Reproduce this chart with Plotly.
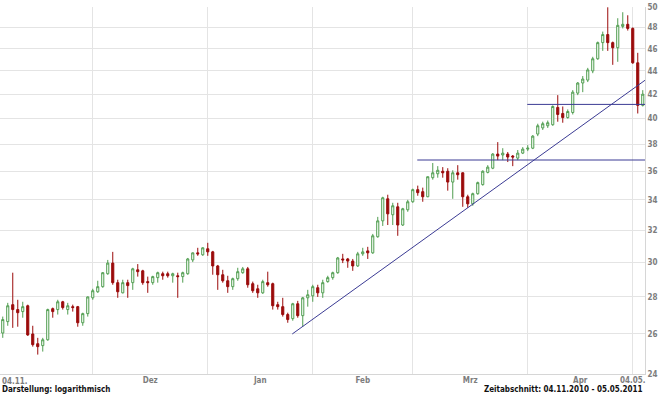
import math
import pandas as pd
import plotly.graph_objects as go

# ---- data ----
holidays = ["2011-04-22", "2011-04-25"]
days = pd.bdate_range("2010-11-04", "2011-05-05")
days = days[~days.isin(pd.to_datetime(holidays))]

open_ = [26.05, 26.65, 27.57, 27.30, 27.19, 27.51, 26.00, 25.50, 25.40, 25.70,
         27.35, 27.30, 27.73, 27.30, 27.46, 27.46, 26.59, 27.08, 27.95, 28.29,
         28.58, 29.33, 29.96, 28.81, 28.23, 28.81, 28.81, 29.56, 29.50, 28.87,
         28.81, 29.10, 29.33, 29.33, 29.21, 29.21, 29.16, 29.33, 30.15, 30.58,
         30.46, 30.83, 30.64, 29.79, 29.27, 28.92, 28.58, 29.04, 29.39, 29.62,
         28.75, 28.46, 28.23, 28.81, 28.75, 27.57, 27.46, 27.03, 26.81, 27.62,
         26.97, 27.95, 28.06, 28.52, 28.23, 28.87, 29.10, 29.39, 30.21, 30.21,
         30.08, 29.79, 30.52, 30.70, 30.58, 31.58, 32.60, 34.07, 33.00, 33.53,
         32.33, 33.33, 33.87, 34.70, 34.56, 34.21, 35.54, 35.82, 36.00, 36.00,
         35.23, 35.89, 35.89, 34.21, 33.73, 34.42, 35.05, 35.92, 36.22, 37.26,
         37.19, 37.26, 37.11, 36.96, 37.33, 37.63, 37.70, 38.78, 39.26, 39.43,
         39.51, 40.90, 40.41, 40.08, 40.49, 42.09, 42.95, 43.20, 44.00, 45.08,
         46.56, 47.32, 46.56, 46.09, 48.10, 48.30, 47.90, 44.72, 41.07]
high = [26.92, 27.67, 29.39, 27.84, 27.73, 27.57, 26.43, 25.80, 25.80, 27.35,
        27.41, 27.84, 27.78, 27.67, 27.57, 27.50, 27.13, 28.02, 28.46, 28.92,
        29.42, 30.15, 30.64, 28.98, 28.98, 28.98, 29.68, 29.90, 29.56, 29.16,
        29.21, 29.45, 29.45, 29.45, 29.39, 29.39, 29.45, 30.27, 30.60, 30.89,
        30.92, 31.20, 30.70, 29.85, 29.56, 29.21, 29.10, 29.68, 29.73, 29.73,
        28.87, 28.69, 28.98, 29.45, 28.81, 27.73, 27.95, 27.13, 27.67, 27.78,
        28.00, 28.40, 28.69, 28.69, 28.98, 29.21, 29.45, 30.33, 30.52, 30.27,
        30.21, 30.64, 30.89, 30.95, 31.76, 32.86, 34.21, 34.35, 33.80, 33.80,
        33.46, 34.00, 34.77, 34.98, 34.84, 35.61, 36.60, 36.37, 36.30, 36.22,
        36.07, 36.44, 35.92, 34.35, 34.49, 35.26, 36.07, 36.44, 37.33, 38.16,
        37.70, 37.41, 37.19, 37.56, 37.78, 37.93, 38.70, 39.59, 39.75, 39.84,
        41.07, 41.92, 40.98, 40.74, 42.34, 43.03, 43.55, 44.27, 45.26, 46.66,
        47.60, 49.97, 46.66, 48.89, 49.48, 49.18, 48.00, 45.62, 42.34]
low = [25.80, 26.43, 26.32, 26.38, 26.86, 25.90, 25.35, 24.95, 25.10, 25.65,
       26.86, 27.03, 27.30, 27.03, 27.19, 26.38, 26.43, 26.92, 27.84, 28.23,
       28.52, 29.27, 28.69, 27.95, 28.20, 27.95, 28.40, 29.16, 28.69, 28.23,
       28.69, 28.81, 28.98, 29.10, 28.81, 27.95, 28.81, 29.27, 30.02, 30.40,
       30.40, 30.40, 29.27, 28.40, 28.81, 28.23, 28.40, 28.92, 29.33, 28.52,
       28.23, 27.95, 28.17, 28.58, 27.30, 27.30, 26.92, 26.59, 26.70, 26.86,
       26.38, 27.46, 27.73, 28.00, 27.95, 28.81, 28.98, 29.33, 29.96, 29.68,
       29.50, 29.73, 30.40, 30.21, 30.52, 31.52, 32.27, 32.33, 32.33, 31.64,
       32.27, 33.20, 33.80, 34.28, 33.87, 34.18, 35.40, 35.54, 35.54, 34.63,
       34.07, 35.40, 33.53, 33.46, 33.60, 34.35, 34.98, 35.85, 36.15, 36.81,
       36.81, 36.67, 36.37, 36.81, 37.26, 37.48, 37.63, 38.62, 39.10, 39.26,
       39.43, 39.75, 39.67, 40.00, 40.33, 41.92, 42.17, 43.03, 43.80, 44.99,
       45.80, 45.80, 44.54, 44.81, 47.90, 47.70, 44.63, 40.41, 40.98]
close = [26.76, 27.51, 27.30, 27.13, 27.46, 25.95, 25.45, 25.35, 25.70, 27.30,
         27.19, 27.73, 27.41, 27.51, 27.41, 26.59, 27.08, 28.00, 28.35, 28.58,
         29.39, 29.96, 28.81, 28.29, 28.81, 28.64, 29.62, 29.45, 28.81, 28.81,
         29.16, 29.39, 29.21, 29.21, 29.33, 29.16, 29.39, 30.21, 30.58, 30.52,
         30.89, 30.64, 29.79, 29.27, 28.92, 28.58, 29.04, 29.45, 29.62, 28.69,
         28.35, 28.23, 28.87, 28.69, 27.51, 27.46, 27.03, 26.76, 27.62, 26.97,
         27.95, 28.12, 28.58, 28.23, 28.81, 29.10, 29.39, 30.27, 30.15, 30.08,
         29.79, 30.52, 30.64, 30.58, 31.64, 32.60, 34.14, 33.06, 33.60, 32.33,
         33.40, 33.87, 34.70, 34.49, 34.21, 35.61, 35.89, 36.07, 35.89, 35.23,
         35.89, 35.75, 34.21, 33.73, 34.42, 35.19, 36.00, 36.30, 37.26, 37.11,
         37.33, 37.04, 37.04, 37.33, 37.63, 37.70, 38.62, 39.43, 39.59, 39.67,
         40.98, 40.33, 40.08, 40.57, 42.17, 42.95, 43.29, 44.09, 45.08, 46.56,
         47.32, 46.56, 46.09, 48.20, 48.30, 47.90, 44.72, 41.07, 42.00]

# trend / support lines (x in trading-day index, y in price)
trend_x = [57.9, 128.5]
trend_y = [26.00, 43.20]
support1_x = [82.9, 128.5]
support1_y = [36.82, 36.82]
support2_x = [104.9, 128.5]
support2_y = [41.15, 41.15]

y_ticks = [24, 26, 28, 30, 32, 34, 36, 38, 40, 42, 44, 46, 48, 50]
y_min, y_max = 24, 50
grid_dates = ["2010-12-01", "2011-01-03", "2011-02-01", "2011-03-01",
              "2011-04-01", "2011-05-04"]
month_labels = ["Dez", "Jan", "Feb", "Mrz", "Apr"]
end_label = "04.05."
start_label = "04.11."

# ---- figure ----
x = list(range(len(days)))
grid_idx = [int(days.get_loc(pd.Timestamp(d))) - 1 for d in grid_dates]
mid_idx = [(grid_idx[i] + grid_idx[i + 1]) / 2 for i in range(len(grid_idx) - 1)]

FONT = "DejaVu Sans Condensed, DejaVu Sans, Verdana, sans-serif"
GREEN = "#4f9d4f"
RED = "#9b0b0b"
LINE = "#3b3b94"
GRID = "#e4e4e4"
XRANGE = [-0.55, 128.45]

fig = go.Figure()
fig.add_trace(go.Candlestick(
    x=x, open=open_, high=high, low=low, close=close,
    increasing=dict(line=dict(color=GREEN, width=1), fillcolor="white"),
    decreasing=dict(line=dict(color=RED, width=1), fillcolor=RED),
    whiskerwidth=0, showlegend=False, hoverinfo="skip"))

for lx, ly in [(trend_x, trend_y), (support1_x, support1_y), (support2_x, support2_y)]:
    fig.add_trace(go.Scatter(x=lx, y=ly, mode="lines",
                             line=dict(color=LINE, width=1),
                             showlegend=False, hoverinfo="skip"))

tickfont = dict(family=FONT, size=8, color="#7d7d7d", weight="bold")

fig.update_layout(
    width=660, height=396,
    margin=dict(l=0, r=15, t=7, b=22, autoexpand=False),
    paper_bgcolor="white", plot_bgcolor="white",
    showlegend=False, boxgap=0.4,
    xaxis=dict(
        range=XRANGE, autorange=False,
        rangeslider=dict(visible=False),
        tickmode="array", tickvals=grid_idx,
        showticklabels=False, ticks="",
        showgrid=True, gridcolor=GRID, gridwidth=1, zeroline=False,
        showline=True, linecolor="#d6d6d6", linewidth=1,
    ),
    xaxis2=dict(
        overlaying="x", matches="x", anchor="y", side="bottom",
        range=XRANGE,
        tickmode="array",
        tickvals=mid_idx + [grid_idx[-1]],
        ticktext=month_labels + [end_label],
        ticks="", showgrid=False, zeroline=False, showline=False,
        tickfont=tickfont,
    ),
    yaxis=dict(
        type="log", side="right",
        range=[math.log10(y_min), math.log10(y_max)], autorange=False,
        tickmode="array", tickvals=y_ticks,
        ticktext=[str(v) for v in y_ticks],
        showgrid=True, gridcolor=GRID, gridwidth=1,
        zeroline=False, ticks="",
        showline=True, linecolor="#d6d6d6", linewidth=1,
        tickfont=tickfont,
    ),
    annotations=[
        dict(text=start_label, x=0, y=0, xref="paper", yref="paper",
             xanchor="left", yanchor="top", yshift=-1, showarrow=False,
             font=tickfont),
        dict(text="<b>Darstellung: logarithmisch</b>", x=0, y=0, xref="paper",
             yref="paper", xanchor="left", yanchor="top", yshift=-9,
             showarrow=False,
             font=dict(family=FONT, size=8, color="#111111")),
        dict(text="<b>Zeitabschnitt: 04.11.2010 - 05.05.2011</b>", x=1, y=0,
             xref="paper", yref="paper", xanchor="right", yanchor="top",
             yshift=-9, showarrow=False,
             font=dict(family=FONT, size=8, color="#111111")),
    ],
)
# invisible trace on the label axis so it is drawn
fig.add_trace(go.Scatter(x=[XRANGE[0]], y=[30], xaxis="x2", mode="markers",
                         marker=dict(opacity=0), showlegend=False,
                         hoverinfo="skip"))

fig.write_html("out.html",
               config={"displayModeBar": False},
               post_script="document.body.style.margin='0';document.body.style.overflow='hidden';")
